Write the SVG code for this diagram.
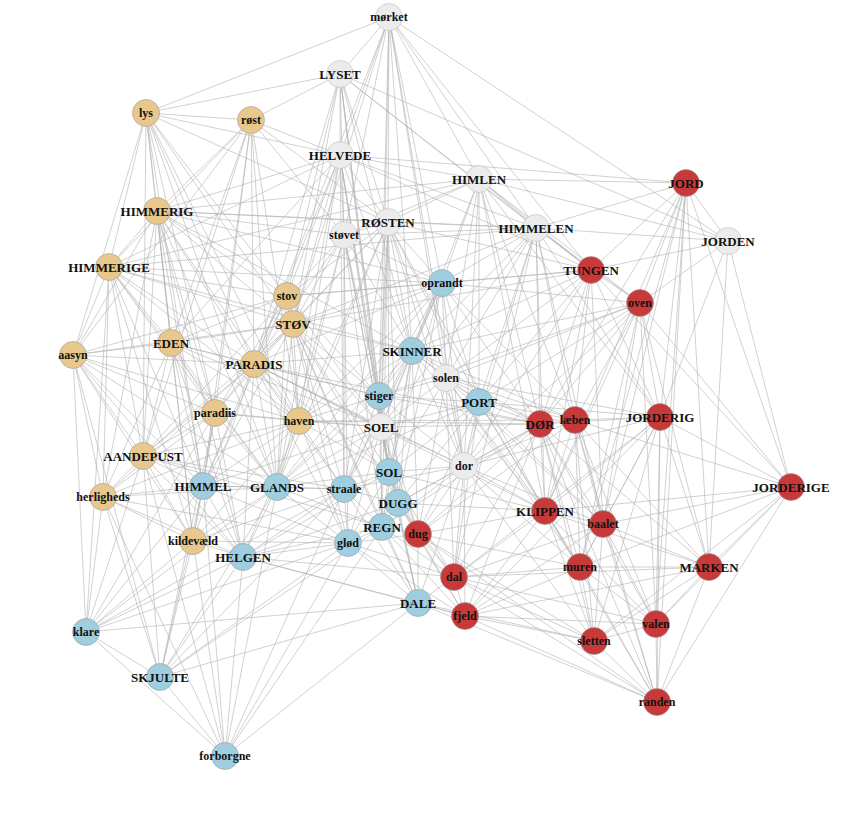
<svg xmlns="http://www.w3.org/2000/svg" width="863" height="818" viewBox="0 0 863 818">
<style>
#connectors path{fill:none;stroke:#b2b2b2;stroke-width:0.7;stroke-opacity:0.85}
.node circle{stroke:#9a9a9a;stroke-width:0.6}
.tan circle{fill:#E8C88C}
.blue circle{fill:#9FCEE1}
.red circle{fill:#C8393A}
.gray circle{fill:#ECECEC;stroke:#bdbdbd}
.node text{font-family:"Liberation Serif","Times New Roman",serif;font-weight:bold;fill:#111;text-anchor:middle;dominant-baseline:central}
.cap text{font-size:13px}
.low text{font-size:12px}
</style>
<rect width="863" height="818" fill="#fff"/>
<g id="connectors">
<path d="M389 17 340 74"/><path d="M389 17 146 113"/><path d="M389 17 340 155"/><path d="M389 17 479 179"/><path d="M389 17 388 222"/><path d="M389 17 536 228"/><path d="M389 17 344 235"/><path d="M389 17 728 241"/><path d="M389 17 591 270"/><path d="M389 17 442 283"/><path d="M389 17 293 324"/><path d="M389 17 412 351"/><path d="M389 17 254 364"/><path d="M389 17 446 378"/><path d="M389 17 379 396"/><path d="M389 17 381 427"/><path d="M389 17 464 466"/>
<path d="M340 74 146 113"/><path d="M340 74 251 120"/><path d="M340 74 340 155"/><path d="M340 74 388 222"/><path d="M340 74 536 228"/><path d="M340 74 344 235"/><path d="M340 74 728 241"/><path d="M340 74 591 270"/><path d="M340 74 287 296"/><path d="M340 74 293 324"/><path d="M340 74 412 351"/><path d="M340 74 254 364"/><path d="M340 74 379 396"/><path d="M340 74 381 427"/><path d="M340 74 389 472"/>
<path d="M146 113 251 120"/><path d="M146 113 340 155"/><path d="M146 113 157 211"/><path d="M146 113 388 222"/><path d="M146 113 109 267"/><path d="M146 113 287 296"/><path d="M146 113 293 324"/><path d="M146 113 171 343"/><path d="M146 113 73 355"/><path d="M146 113 254 364"/><path d="M146 113 215 413"/><path d="M146 113 299 421"/><path d="M146 113 143 456"/><path d="M146 113 203 486"/><path d="M146 113 277 487"/>
<path d="M251 120 340 155"/><path d="M251 120 157 211"/><path d="M251 120 388 222"/><path d="M251 120 344 235"/><path d="M251 120 109 267"/><path d="M251 120 171 343"/><path d="M251 120 73 355"/><path d="M251 120 254 364"/><path d="M251 120 215 413"/><path d="M251 120 299 421"/><path d="M251 120 143 456"/><path d="M251 120 203 486"/><path d="M251 120 277 487"/>
<path d="M340 155 479 179"/><path d="M340 155 686 183"/><path d="M340 155 157 211"/><path d="M340 155 388 222"/><path d="M340 155 536 228"/><path d="M340 155 344 235"/><path d="M340 155 109 267"/><path d="M340 155 591 270"/><path d="M340 155 287 296"/><path d="M340 155 293 324"/><path d="M340 155 171 343"/><path d="M340 155 412 351"/><path d="M340 155 254 364"/><path d="M340 155 379 396"/><path d="M340 155 299 421"/><path d="M340 155 381 427"/><path d="M340 155 389 472"/><path d="M340 155 277 487"/><path d="M340 155 344 489"/>
<path d="M479 179 686 183"/><path d="M479 179 157 211"/><path d="M479 179 388 222"/><path d="M479 179 536 228"/><path d="M479 179 344 235"/><path d="M479 179 728 241"/><path d="M479 179 109 267"/><path d="M479 179 591 270"/><path d="M479 179 442 283"/><path d="M479 179 640 303"/><path d="M479 179 412 351"/><path d="M479 179 446 378"/><path d="M479 179 479 402"/><path d="M479 179 575 420"/><path d="M479 179 660 417"/><path d="M479 179 540 424"/><path d="M479 179 464 466"/><path d="M479 179 545 511"/>
<path d="M686 183 536 228"/><path d="M686 183 728 241"/><path d="M686 183 591 270"/><path d="M686 183 640 303"/><path d="M686 183 660 417"/><path d="M686 183 540 424"/><path d="M686 183 791 487"/><path d="M686 183 545 511"/><path d="M686 183 603 524"/><path d="M686 183 580 567"/><path d="M686 183 709 567"/><path d="M686 183 656 624"/><path d="M686 183 657 702"/>
<path d="M157 211 388 222"/><path d="M157 211 536 228"/><path d="M157 211 344 235"/><path d="M157 211 109 267"/><path d="M157 211 442 283"/><path d="M157 211 287 296"/><path d="M157 211 293 324"/><path d="M157 211 171 343"/><path d="M157 211 412 351"/><path d="M157 211 73 355"/><path d="M157 211 254 364"/><path d="M157 211 215 413"/><path d="M157 211 299 421"/><path d="M157 211 143 456"/><path d="M157 211 203 486"/><path d="M157 211 277 487"/><path d="M157 211 103 497"/><path d="M157 211 193 541"/><path d="M157 211 243 557"/>
<path d="M388 222 536 228"/><path d="M388 222 344 235"/><path d="M388 222 591 270"/><path d="M388 222 442 283"/><path d="M388 222 287 296"/><path d="M388 222 293 324"/><path d="M388 222 412 351"/><path d="M388 222 254 364"/><path d="M388 222 446 378"/><path d="M388 222 379 396"/><path d="M388 222 479 402"/><path d="M388 222 299 421"/><path d="M388 222 381 427"/><path d="M388 222 464 466"/><path d="M388 222 389 472"/><path d="M388 222 277 487"/><path d="M388 222 344 489"/><path d="M388 222 398 503"/><path d="M388 222 545 511"/><path d="M388 222 382 527"/>
<path d="M536 228 344 235"/><path d="M536 228 728 241"/><path d="M536 228 109 267"/><path d="M536 228 591 270"/><path d="M536 228 442 283"/><path d="M536 228 640 303"/><path d="M536 228 293 324"/><path d="M536 228 412 351"/><path d="M536 228 446 378"/><path d="M536 228 479 402"/><path d="M536 228 575 420"/><path d="M536 228 660 417"/><path d="M536 228 540 424"/><path d="M536 228 381 427"/><path d="M536 228 464 466"/><path d="M536 228 545 511"/><path d="M536 228 603 524"/><path d="M536 228 454 577"/>
<path d="M344 235 442 283"/><path d="M344 235 287 296"/><path d="M344 235 293 324"/><path d="M344 235 412 351"/><path d="M344 235 254 364"/><path d="M344 235 379 396"/><path d="M344 235 299 421"/><path d="M344 235 381 427"/><path d="M344 235 389 472"/><path d="M344 235 277 487"/><path d="M344 235 344 489"/><path d="M344 235 382 527"/><path d="M344 235 348 543"/>
<path d="M728 241 591 270"/><path d="M728 241 640 303"/><path d="M728 241 660 417"/><path d="M728 241 791 487"/><path d="M728 241 709 567"/>
<path d="M109 267 442 283"/><path d="M109 267 287 296"/><path d="M109 267 293 324"/><path d="M109 267 171 343"/><path d="M109 267 412 351"/><path d="M109 267 73 355"/><path d="M109 267 254 364"/><path d="M109 267 215 413"/><path d="M109 267 299 421"/><path d="M109 267 143 456"/><path d="M109 267 203 486"/><path d="M109 267 277 487"/><path d="M109 267 103 497"/><path d="M109 267 193 541"/><path d="M109 267 86 632"/>
<path d="M591 270 442 283"/><path d="M591 270 287 296"/><path d="M591 270 640 303"/><path d="M591 270 293 324"/><path d="M591 270 412 351"/><path d="M591 270 446 378"/><path d="M591 270 479 402"/><path d="M591 270 575 420"/><path d="M591 270 660 417"/><path d="M591 270 540 424"/><path d="M591 270 464 466"/><path d="M591 270 791 487"/><path d="M591 270 545 511"/><path d="M591 270 603 524"/>
<path d="M442 283 287 296"/><path d="M442 283 640 303"/><path d="M442 283 293 324"/><path d="M442 283 412 351"/><path d="M442 283 254 364"/><path d="M442 283 446 378"/><path d="M442 283 379 396"/><path d="M442 283 479 402"/><path d="M442 283 299 421"/><path d="M442 283 575 420"/><path d="M442 283 540 424"/><path d="M442 283 381 427"/><path d="M442 283 464 466"/><path d="M442 283 389 472"/><path d="M442 283 277 487"/><path d="M442 283 344 489"/><path d="M442 283 398 503"/>
<path d="M287 296 293 324"/><path d="M287 296 171 343"/><path d="M287 296 73 355"/><path d="M287 296 254 364"/><path d="M287 296 379 396"/><path d="M287 296 215 413"/><path d="M287 296 299 421"/><path d="M287 296 381 427"/><path d="M287 296 143 456"/><path d="M287 296 203 486"/><path d="M287 296 277 487"/>
<path d="M640 303 412 351"/><path d="M640 303 446 378"/><path d="M640 303 379 396"/><path d="M640 303 479 402"/><path d="M640 303 575 420"/><path d="M640 303 660 417"/><path d="M640 303 540 424"/><path d="M640 303 464 466"/><path d="M640 303 791 487"/><path d="M640 303 545 511"/><path d="M640 303 603 524"/><path d="M640 303 580 567"/><path d="M640 303 709 567"/><path d="M640 303 656 624"/>
<path d="M293 324 171 343"/><path d="M293 324 412 351"/><path d="M293 324 73 355"/><path d="M293 324 254 364"/><path d="M293 324 379 396"/><path d="M293 324 215 413"/><path d="M293 324 299 421"/><path d="M293 324 381 427"/><path d="M293 324 143 456"/><path d="M293 324 389 472"/><path d="M293 324 203 486"/><path d="M293 324 277 487"/><path d="M293 324 344 489"/><path d="M293 324 382 527"/><path d="M293 324 418 534"/><path d="M293 324 348 543"/><path d="M293 324 418 603"/>
<path d="M171 343 73 355"/><path d="M171 343 254 364"/><path d="M171 343 379 396"/><path d="M171 343 215 413"/><path d="M171 343 299 421"/><path d="M171 343 381 427"/><path d="M171 343 143 456"/><path d="M171 343 203 486"/><path d="M171 343 277 487"/><path d="M171 343 103 497"/><path d="M171 343 193 541"/><path d="M171 343 243 557"/>
<path d="M412 351 254 364"/><path d="M412 351 446 378"/><path d="M412 351 379 396"/><path d="M412 351 479 402"/><path d="M412 351 299 421"/><path d="M412 351 575 420"/><path d="M412 351 540 424"/><path d="M412 351 381 427"/><path d="M412 351 464 466"/><path d="M412 351 389 472"/><path d="M412 351 277 487"/><path d="M412 351 344 489"/><path d="M412 351 398 503"/><path d="M412 351 545 511"/><path d="M412 351 382 527"/><path d="M412 351 418 534"/>
<path d="M73 355 254 364"/><path d="M73 355 215 413"/><path d="M73 355 299 421"/><path d="M73 355 143 456"/><path d="M73 355 203 486"/><path d="M73 355 277 487"/><path d="M73 355 103 497"/><path d="M73 355 193 541"/><path d="M73 355 243 557"/><path d="M73 355 86 632"/><path d="M73 355 160 677"/>
<path d="M254 364 379 396"/><path d="M254 364 215 413"/><path d="M254 364 299 421"/><path d="M254 364 540 424"/><path d="M254 364 381 427"/><path d="M254 364 143 456"/><path d="M254 364 464 466"/><path d="M254 364 389 472"/><path d="M254 364 203 486"/><path d="M254 364 277 487"/><path d="M254 364 344 489"/><path d="M254 364 103 497"/><path d="M254 364 545 511"/><path d="M254 364 193 541"/><path d="M254 364 348 543"/><path d="M254 364 243 557"/>
<path d="M446 378 379 396"/><path d="M446 378 479 402"/><path d="M446 378 575 420"/><path d="M446 378 660 417"/><path d="M446 378 540 424"/><path d="M446 378 381 427"/><path d="M446 378 464 466"/><path d="M446 378 389 472"/><path d="M446 378 545 511"/><path d="M446 378 603 524"/><path d="M446 378 418 534"/><path d="M446 378 580 567"/><path d="M446 378 454 577"/>
<path d="M379 396 479 402"/><path d="M379 396 299 421"/><path d="M379 396 540 424"/><path d="M379 396 381 427"/><path d="M379 396 464 466"/><path d="M379 396 389 472"/><path d="M379 396 277 487"/><path d="M379 396 344 489"/><path d="M379 396 398 503"/><path d="M379 396 382 527"/><path d="M379 396 418 534"/>
<path d="M479 402 575 420"/><path d="M479 402 660 417"/><path d="M479 402 540 424"/><path d="M479 402 381 427"/><path d="M479 402 464 466"/><path d="M479 402 389 472"/><path d="M479 402 277 487"/><path d="M479 402 398 503"/><path d="M479 402 545 511"/><path d="M479 402 603 524"/><path d="M479 402 418 534"/><path d="M479 402 580 567"/><path d="M479 402 454 577"/>
<path d="M215 413 299 421"/><path d="M215 413 381 427"/><path d="M215 413 143 456"/><path d="M215 413 203 486"/><path d="M215 413 277 487"/><path d="M215 413 103 497"/><path d="M215 413 193 541"/><path d="M215 413 243 557"/><path d="M215 413 86 632"/><path d="M215 413 160 677"/>
<path d="M299 421 575 420"/><path d="M299 421 540 424"/><path d="M299 421 381 427"/><path d="M299 421 143 456"/><path d="M299 421 389 472"/><path d="M299 421 203 486"/><path d="M299 421 277 487"/><path d="M299 421 344 489"/><path d="M299 421 103 497"/><path d="M299 421 193 541"/><path d="M299 421 348 543"/><path d="M299 421 243 557"/>
<path d="M575 420 660 417"/><path d="M575 420 540 424"/><path d="M575 420 464 466"/><path d="M575 420 791 487"/><path d="M575 420 545 511"/><path d="M575 420 603 524"/><path d="M575 420 418 534"/><path d="M575 420 580 567"/><path d="M575 420 709 567"/><path d="M575 420 656 624"/><path d="M575 420 594 641"/><path d="M575 420 657 702"/>
<path d="M660 417 540 424"/><path d="M660 417 464 466"/><path d="M660 417 791 487"/><path d="M660 417 545 511"/><path d="M660 417 603 524"/><path d="M660 417 580 567"/><path d="M660 417 709 567"/><path d="M660 417 454 577"/><path d="M660 417 465 616"/><path d="M660 417 656 624"/><path d="M660 417 594 641"/><path d="M660 417 657 702"/>
<path d="M540 424 381 427"/><path d="M540 424 464 466"/><path d="M540 424 398 503"/><path d="M540 424 545 511"/><path d="M540 424 603 524"/><path d="M540 424 382 527"/><path d="M540 424 418 534"/><path d="M540 424 580 567"/><path d="M540 424 709 567"/><path d="M540 424 454 577"/><path d="M540 424 465 616"/><path d="M540 424 656 624"/><path d="M540 424 594 641"/><path d="M540 424 657 702"/>
<path d="M381 427 464 466"/><path d="M381 427 389 472"/><path d="M381 427 203 486"/><path d="M381 427 277 487"/><path d="M381 427 344 489"/><path d="M381 427 398 503"/><path d="M381 427 382 527"/><path d="M381 427 418 534"/><path d="M381 427 348 543"/><path d="M381 427 418 603"/>
<path d="M143 456 203 486"/><path d="M143 456 277 487"/><path d="M143 456 344 489"/><path d="M143 456 103 497"/><path d="M143 456 382 527"/><path d="M143 456 193 541"/><path d="M143 456 243 557"/><path d="M143 456 86 632"/><path d="M143 456 160 677"/><path d="M143 456 225 756"/>
<path d="M464 466 389 472"/><path d="M464 466 344 489"/><path d="M464 466 398 503"/><path d="M464 466 545 511"/><path d="M464 466 603 524"/><path d="M464 466 382 527"/><path d="M464 466 418 534"/><path d="M464 466 580 567"/><path d="M464 466 454 577"/><path d="M464 466 418 603"/><path d="M464 466 465 616"/><path d="M464 466 594 641"/>
<path d="M389 472 277 487"/><path d="M389 472 344 489"/><path d="M389 472 398 503"/><path d="M389 472 545 511"/><path d="M389 472 382 527"/><path d="M389 472 418 534"/><path d="M389 472 348 543"/><path d="M389 472 243 557"/><path d="M389 472 454 577"/><path d="M389 472 418 603"/>
<path d="M203 486 277 487"/><path d="M203 486 344 489"/><path d="M203 486 103 497"/><path d="M203 486 193 541"/><path d="M203 486 348 543"/><path d="M203 486 243 557"/><path d="M203 486 86 632"/><path d="M203 486 160 677"/><path d="M203 486 225 756"/>
<path d="M277 487 344 489"/><path d="M277 487 103 497"/><path d="M277 487 382 527"/><path d="M277 487 193 541"/><path d="M277 487 348 543"/><path d="M277 487 243 557"/><path d="M277 487 86 632"/><path d="M277 487 160 677"/><path d="M277 487 225 756"/>
<path d="M791 487 545 511"/><path d="M791 487 603 524"/><path d="M791 487 580 567"/><path d="M791 487 709 567"/><path d="M791 487 656 624"/><path d="M791 487 594 641"/><path d="M791 487 657 702"/>
<path d="M344 489 398 503"/><path d="M344 489 382 527"/><path d="M344 489 193 541"/><path d="M344 489 348 543"/><path d="M344 489 243 557"/><path d="M344 489 418 603"/><path d="M344 489 86 632"/><path d="M344 489 160 677"/><path d="M344 489 225 756"/>
<path d="M103 497 193 541"/><path d="M103 497 348 543"/><path d="M103 497 243 557"/><path d="M103 497 86 632"/><path d="M103 497 160 677"/><path d="M103 497 225 756"/>
<path d="M398 503 545 511"/><path d="M398 503 382 527"/><path d="M398 503 418 534"/><path d="M398 503 348 543"/><path d="M398 503 243 557"/><path d="M398 503 454 577"/><path d="M398 503 418 603"/><path d="M398 503 465 616"/>
<path d="M545 511 603 524"/><path d="M545 511 418 534"/><path d="M545 511 580 567"/><path d="M545 511 709 567"/><path d="M545 511 454 577"/><path d="M545 511 465 616"/><path d="M545 511 656 624"/><path d="M545 511 594 641"/><path d="M545 511 657 702"/>
<path d="M603 524 580 567"/><path d="M603 524 709 567"/><path d="M603 524 454 577"/><path d="M603 524 465 616"/><path d="M603 524 656 624"/><path d="M603 524 594 641"/><path d="M603 524 657 702"/>
<path d="M382 527 418 534"/><path d="M382 527 348 543"/><path d="M382 527 243 557"/><path d="M382 527 454 577"/><path d="M382 527 418 603"/><path d="M382 527 465 616"/><path d="M382 527 160 677"/><path d="M382 527 225 756"/>
<path d="M418 534 348 543"/><path d="M418 534 580 567"/><path d="M418 534 454 577"/><path d="M418 534 418 603"/><path d="M418 534 465 616"/><path d="M418 534 594 641"/><path d="M418 534 657 702"/>
<path d="M193 541 348 543"/><path d="M193 541 243 557"/><path d="M193 541 86 632"/><path d="M193 541 160 677"/><path d="M193 541 225 756"/>
<path d="M348 543 243 557"/><path d="M348 543 454 577"/><path d="M348 543 418 603"/><path d="M348 543 465 616"/><path d="M348 543 86 632"/><path d="M348 543 160 677"/><path d="M348 543 225 756"/>
<path d="M243 557 454 577"/><path d="M243 557 418 603"/><path d="M243 557 465 616"/><path d="M243 557 86 632"/><path d="M243 557 160 677"/><path d="M243 557 225 756"/>
<path d="M580 567 709 567"/><path d="M580 567 454 577"/><path d="M580 567 465 616"/><path d="M580 567 656 624"/><path d="M580 567 594 641"/><path d="M580 567 657 702"/>
<path d="M709 567 454 577"/><path d="M709 567 465 616"/><path d="M709 567 656 624"/><path d="M709 567 594 641"/><path d="M709 567 657 702"/>
<path d="M454 577 418 603"/><path d="M454 577 465 616"/><path d="M454 577 656 624"/><path d="M454 577 594 641"/><path d="M454 577 657 702"/>
<path d="M418 603 465 616"/><path d="M418 603 86 632"/><path d="M418 603 594 641"/><path d="M418 603 160 677"/><path d="M418 603 657 702"/><path d="M418 603 225 756"/>
<path d="M465 616 656 624"/><path d="M465 616 594 641"/><path d="M465 616 657 702"/>
<path d="M656 624 594 641"/><path d="M656 624 657 702"/>
<path d="M86 632 160 677"/><path d="M86 632 225 756"/>
<path d="M594 641 657 702"/>
<path d="M160 677 225 756"/>
</g>
<g id="nodes">
<g id="n-morket" class="node gray low"><circle cx="389" cy="17" r="13.5"/><text x="389" y="17">mørket</text></g>
<g id="n-LYSET" class="node gray cap"><circle cx="340" cy="74" r="13.5"/><text x="340" y="74">LYSET</text></g>
<g id="n-lys" class="node tan low"><circle cx="146" cy="113" r="13.5"/><text x="146" y="113">lys</text></g>
<g id="n-rost" class="node tan low"><circle cx="251" cy="120" r="13.5"/><text x="251" y="120">røst</text></g>
<g id="n-HELVEDE" class="node gray cap"><circle cx="340" cy="155" r="13.5"/><text x="340" y="155">HELVEDE</text></g>
<g id="n-HIMLEN" class="node gray cap"><circle cx="479" cy="179" r="13.5"/><text x="479" y="179">HIMLEN</text></g>
<g id="n-JORD" class="node red cap"><circle cx="686" cy="183" r="13.5"/><text x="686" y="183">JORD</text></g>
<g id="n-HIMMERIG" class="node tan cap"><circle cx="157" cy="211" r="13.5"/><text x="157" y="211">HIMMERIG</text></g>
<g id="n-ROSTEN" class="node gray cap"><circle cx="388" cy="222" r="13.5"/><text x="388" y="222">RØSTEN</text></g>
<g id="n-HIMMELEN" class="node gray cap"><circle cx="536" cy="228" r="13.5"/><text x="536" y="228">HIMMELEN</text></g>
<g id="n-stovet" class="node gray low"><circle cx="344" cy="235" r="13.5"/><text x="344" y="235">støvet</text></g>
<g id="n-JORDEN" class="node gray cap"><circle cx="728" cy="241" r="13.5"/><text x="728" y="241">JORDEN</text></g>
<g id="n-HIMMERIGE" class="node tan cap"><circle cx="109" cy="267" r="13.5"/><text x="109" y="267">HIMMERIGE</text></g>
<g id="n-TUNGEN" class="node red cap"><circle cx="591" cy="270" r="13.5"/><text x="591" y="270">TUNGEN</text></g>
<g id="n-oprandt" class="node blue low"><circle cx="442" cy="283" r="13.5"/><text x="442" y="283">oprandt</text></g>
<g id="n-stov" class="node tan low"><circle cx="287" cy="296" r="13.5"/><text x="287" y="296">stov</text></g>
<g id="n-oven" class="node red low"><circle cx="640" cy="303" r="13.5"/><text x="640" y="303">oven</text></g>
<g id="n-STOV" class="node tan cap"><circle cx="293" cy="324" r="13.5"/><text x="293" y="324">STØV</text></g>
<g id="n-EDEN" class="node tan cap"><circle cx="171" cy="343" r="13.5"/><text x="171" y="343">EDEN</text></g>
<g id="n-SKINNER" class="node blue cap"><circle cx="412" cy="351" r="13.5"/><text x="412" y="351">SKINNER</text></g>
<g id="n-aasyn" class="node tan low"><circle cx="73" cy="355" r="13.5"/><text x="73" y="355">aasyn</text></g>
<g id="n-PARADIS" class="node tan cap"><circle cx="254" cy="364" r="13.5"/><text x="254" y="364">PARADIS</text></g>
<g id="n-solen" class="node gray low"><circle cx="446" cy="378" r="13.5"/><text x="446" y="378">solen</text></g>
<g id="n-stiger" class="node blue low"><circle cx="379" cy="396" r="13.5"/><text x="379" y="396">stiger</text></g>
<g id="n-PORT" class="node blue cap"><circle cx="479" cy="402" r="13.5"/><text x="479" y="402">PORT</text></g>
<g id="n-paradiis" class="node tan low"><circle cx="215" cy="413" r="13.5"/><text x="215" y="413">paradiis</text></g>
<g id="n-haven" class="node tan low"><circle cx="299" cy="421" r="13.5"/><text x="299" y="421">haven</text></g>
<g id="n-JORDERIG" class="node red cap"><circle cx="660" cy="417" r="13.5"/><text x="660" y="417">JORDERIG</text></g>
<g id="n-DOR" class="node red cap"><circle cx="540" cy="424" r="13.5"/><text x="540" y="424">DØR</text></g>
<g id="n-laeben" class="node red low"><circle cx="575" cy="420" r="13.5"/><text x="575" y="420">læben</text></g>
<g id="n-SOEL" class="node gray cap"><circle cx="381" cy="427" r="13.5"/><text x="381" y="427">SOEL</text></g>
<g id="n-AANDEPUST" class="node tan cap"><circle cx="143" cy="456" r="13.5"/><text x="143" y="456">AANDEPUST</text></g>
<g id="n-dor" class="node gray low"><circle cx="464" cy="466" r="13.5"/><text x="464" y="466">dor</text></g>
<g id="n-SOL" class="node blue cap"><circle cx="389" cy="472" r="13.5"/><text x="389" y="472">SOL</text></g>
<g id="n-HIMMEL" class="node blue cap"><circle cx="203" cy="486" r="13.5"/><text x="203" y="486">HIMMEL</text></g>
<g id="n-GLANDS" class="node blue cap"><circle cx="277" cy="487" r="13.5"/><text x="277" y="487">GLANDS</text></g>
<g id="n-JORDERIGE" class="node red cap"><circle cx="791" cy="487" r="13.5"/><text x="791" y="487">JORDERIGE</text></g>
<g id="n-straale" class="node blue low"><circle cx="344" cy="489" r="13.5"/><text x="344" y="489">straale</text></g>
<g id="n-herligheds" class="node tan low"><circle cx="103" cy="497" r="13.5"/><text x="103" y="497">herligheds</text></g>
<g id="n-DUGG" class="node blue cap"><circle cx="398" cy="503" r="13.5"/><text x="398" y="503">DUGG</text></g>
<g id="n-KLIPPEN" class="node red cap"><circle cx="545" cy="511" r="13.5"/><text x="545" y="511">KLIPPEN</text></g>
<g id="n-baalet" class="node red low"><circle cx="603" cy="524" r="13.5"/><text x="603" y="524">baalet</text></g>
<g id="n-REGN" class="node blue cap"><circle cx="382" cy="527" r="13.5"/><text x="382" y="527">REGN</text></g>
<g id="n-dug" class="node red low"><circle cx="418" cy="534" r="13.5"/><text x="418" y="534">dug</text></g>
<g id="n-kildevaeld" class="node tan low"><circle cx="193" cy="541" r="13.5"/><text x="193" y="541">kildevæld</text></g>
<g id="n-glod" class="node blue low"><circle cx="348" cy="543" r="13.5"/><text x="348" y="543">glød</text></g>
<g id="n-HELGEN" class="node blue cap"><circle cx="243" cy="557" r="13.5"/><text x="243" y="557">HELGEN</text></g>
<g id="n-muren" class="node red low"><circle cx="580" cy="567" r="13.5"/><text x="580" y="567">muren</text></g>
<g id="n-MARKEN" class="node red cap"><circle cx="709" cy="567" r="13.5"/><text x="709" y="567">MARKEN</text></g>
<g id="n-dal" class="node red low"><circle cx="454" cy="577" r="13.5"/><text x="454" y="577">dal</text></g>
<g id="n-DALE" class="node blue cap"><circle cx="418" cy="603" r="13.5"/><text x="418" y="603">DALE</text></g>
<g id="n-fjeld" class="node red low"><circle cx="465" cy="616" r="13.5"/><text x="465" y="616">fjeld</text></g>
<g id="n-valen" class="node red low"><circle cx="656" cy="624" r="13.5"/><text x="656" y="624">valen</text></g>
<g id="n-klare" class="node blue low"><circle cx="86" cy="632" r="13.5"/><text x="86" y="632">klare</text></g>
<g id="n-sletten" class="node red low"><circle cx="594" cy="641" r="13.5"/><text x="594" y="641">sletten</text></g>
<g id="n-SKJULTE" class="node blue cap"><circle cx="160" cy="677" r="13.5"/><text x="160" y="677">SKJULTE</text></g>
<g id="n-randen" class="node red low"><circle cx="657" cy="702" r="13.5"/><text x="657" y="702">randen</text></g>
<g id="n-forborgne" class="node blue low"><circle cx="225" cy="756" r="13.5"/><text x="225" y="756">forborgne</text></g>
</g>
</svg>
